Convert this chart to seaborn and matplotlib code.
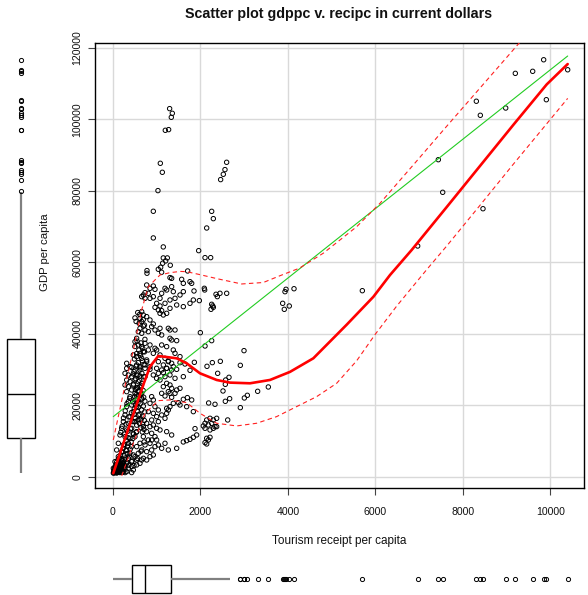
import matplotlib
matplotlib.use("Agg")
import matplotlib.pyplot as plt
import numpy as np
import pandas as pd
import seaborn as sns

sns.set_theme(style="white")
plt.rcParams["font.family"] = ["Liberation Sans", "DejaVu Sans"]

# ---- observations: (tourism receipt per capita, GDP per capita) ----
far_right = [(9845, 116700), (9594, 113470), (9197, 112900), (10394, 113900),
             (8306, 105100), (8397, 101170), (8977, 103200), (9906, 105530),
             (7437, 88750), (7537, 79630), (8458, 75040), (6965, 64610),
             (5700, 52110)]
around_4000 = [(3932, 51830), (3955, 52500), (4138, 52660), (3879, 48580),
               (3916, 46900), (4030, 47830)]
upper_spike = [(1295, 103031), (1356, 101726), (1333, 100608), (1196, 96973),
               (1272, 97159), (1082, 87746), (1128, 85230), (1028, 80104),
               (922, 74325), (922, 66869), (1150, 64353), (1150, 61277),
               (1242, 61277), (1204, 60438), (1310, 59227), (1036, 58108),
               (1090, 58667), (1135, 59786), (777, 57736), (777, 56990),
               (1112, 57270), (1303, 55778)]
right_column = [(2598, 88026), (2560, 85976), (2522, 84671), (2461, 83180),
                (2256, 74308), (2294, 72258), (2142, 69648), (1959, 63311),
                (2104, 61354), (2233, 61354), (1707, 57625)]
mid_right = [(1852, 52033), (1974, 49331), (2088, 52778), (2096, 52313),
             (2355, 51101), (2385, 50449), (2446, 51381), (2599, 51381),
             (2256, 48306), (2294, 47467), (2241, 46908), (2279, 47840)]
upper_cluster = [
    (1341, 55568), (1570, 55288), (1608, 54170), (1760, 54636), (1799, 54170),
    (770, 53704), (922, 53424), (846, 52772), (960, 52492), (1189, 52772),
    (1227, 52306), (1341, 53238), (1379, 51840), (732, 51560), (694, 50908),
    (808, 51374), (656, 50442), (732, 49976), (846, 49976), (922, 50442),
    (1113, 51374), (1075, 49976), (1303, 49510), (1418, 49976), (1532, 50908),
    (1608, 51840), (1189, 48578), (998, 48578), (960, 47460), (1075, 47832),
    (1037, 46714), (1113, 46528), (1075, 45782), (1151, 45316), (1227, 45782),
    (1303, 47180), (1456, 48112), (1608, 47646), (1760, 48578), (1837, 49510),
    (656, 46248), (694, 45316), (617, 44384), (656, 43452), (770, 44850),
    (846, 43918), (922, 42800), (884, 42054), (694, 42240), (617, 41588),
    (579, 40656), (656, 40190), (732, 41122), (808, 40656), (960, 41122),
    (1075, 41588), (1037, 40190), (1113, 39724), (1265, 41588), (1303, 41122),
    (1418, 41122), (1303, 38792), (1341, 38326), (1456, 38140), (541, 38792),
    (503, 37860), (579, 36928), (656, 36462), (732, 37394), (846, 36928),
    (960, 35996), (808, 35530), (694, 35064), (617, 34598), (541, 33666),
    (465, 34132), (656, 33200), (770, 32734), (922, 34598), (998, 35530),
    (1113, 36928), (1227, 36462), (1379, 35530), (1418, 34598), (1532, 33666),
    (1075, 34132), (1189, 33200), (1265, 32268), (1341, 31802), (313, 31802),
    (389, 30870), (541, 31336), (617, 30870), (732, 31336), (846, 30870),
    (1151, 31336), (1227, 30404), (1379, 30870)]
lower_right = [
    (1997, 40372), (2104, 36643), (2256, 38134), (2995, 35339), (2911, 31238),
    (1860, 32077), (2149, 30958), (2271, 31988), (2454, 32356), (1761, 29840),
    (2393, 29001), (2652, 27883), (2576, 27137), (2568, 25925), (2515, 24062),
    (2667, 21918), (2568, 21172), (3071, 22850), (3003, 22104), (3307, 23968),
    (3551, 25180), (2911, 19402), (2622, 15953), (2187, 20706), (2332, 20334),
    (1700, 22198), (1799, 21545), (1608, 21731), (2142, 15953), (2218, 16419),
    (2294, 15953), (2370, 16419), (2104, 15021), (2180, 14555), (2256, 15021),
    (2332, 14089), (2104, 13623), (2218, 13157), (2294, 13623), (2370, 14089),
    (2065, 14275), (1875, 13530), (1913, 11759), (1837, 11107), (1761, 10548),
    (1684, 10174), (1608, 9802), (2142, 10827), (2218, 11107), (2104, 9615),
    (2142, 9243), (2180, 10361), (1532, 31979), (1646, 31607), (1608, 28065),
    (1532, 24803), (1837, 18279), (1684, 19677), (1532, 20143)]
core = [
    (770, 32259), (1037, 32259), (1265, 32445),
    (313, 30395), (427, 30675), (503, 29929), (617, 29929), (732, 30395),
    (846, 30115), (998, 30395), (1113, 29929), (1227, 30395), (1341, 29929),
    (1456, 30115), (1037, 28997), (1151, 29183),
    (275, 28997), (351, 28531), (427, 28065), (465, 28811), (541, 28531),
    (617, 28251), (732, 28065), (313, 27133), (389, 26667), (503, 27133),
    (579, 26667), (656, 26201), (275, 25735), (351, 25269), (465, 25735),
    (541, 24803), (617, 25269), (427, 24337), (313, 23871), (503, 23405),
    (579, 23871), (656, 23405),
    (922, 28531), (998, 27599), (1075, 27133), (1189, 28065), (1303, 28531),
    (1418, 27599), (1227, 26201), (1303, 25735), (1151, 25269), (1341, 24803),
    (1456, 24337), (1418, 23405), (1265, 23871), (1303, 23405), (1113, 23405),
    (1189, 22659), (1341, 22287), (1494, 20795), (1379, 20609), (1303, 19677),
    (1227, 19211), (1265, 18745),
    (884, 22473), (922, 21541), (846, 20609), (960, 19677), (1037, 18745),
    (808, 18279), (922, 17813), (998, 16881), (1113, 17347), (1189, 16415),
    (1227, 17813), (1037, 15483), (884, 15949), (770, 15017), (846, 14085),
    (922, 14551), (998, 13619), (1075, 13153), (694, 14085), (770, 12687),
    (884, 12221), (960, 11289), (694, 11289), (808, 10357), (617, 9425),
    (732, 8959), (541, 8493), (846, 9425), (656, 7561), (579, 6629),
    (465, 6163), (770, 7095), (884, 7561), (960, 8493), (1037, 8959),
    (1113, 8027), (1189, 9425),
    (541, 4765), (656, 4765), (427, 4299), (313, 3833), (237, 2901),
    (160, 2435), (84, 1503), (46, 1200), (8, 1100), (122, 1969), (198, 3367),
    (351, 5231), (503, 5697), (389, 6629), (427, 2901), (465, 1969),
    (313, 1503), (541, 3367), (617, 3833), (694, 5231), (770, 4765),
    (846, 5697), (922, 6163), (275, 4765), (198, 4765), (1265, 7561),
    (1456, 8027), (1227, 12687), (1341, 11755), (884, 10357), (998, 10357),
    (160, 1237), (84, 1150), (122, 1300), (46, 2435), (275, 1237)]
left_branch = [
    (389, 22473), (351, 21075), (313, 19677), (427, 20143), (503, 21541),
    (541, 19677), (465, 18279), (275, 17347), (389, 16881), (579, 17347),
    (237, 15483), (351, 15017), (503, 15483), (617, 15949), (198, 13619),
    (313, 13153), (427, 13619), (541, 12687), (160, 11755), (275, 11289),
    (389, 10823), (503, 11289), (122, 9425), (237, 8959), (351, 9425),
    (427, 8493), (84, 7561), (198, 7095), (313, 7561), (122, 5697),
    (46, 4299), (160, 3833), (8, 2435), (84, 3367), (237, 1503),
    (351, 2435), (427, 1237), (198, 1300), (145, 3087), (69, 1969)]
near_origin = [
    (30, 1400), (60, 1900), (90, 1200), (120, 2600), (150, 1500), (180, 2000),
    (210, 1300), (250, 2200), (40, 1800), (70, 2500), (100, 3000), (130, 2100),
    (170, 3500), (200, 2800), (230, 4000), (260, 3200), (20, 1200), (50, 1700),
    (110, 1800), (160, 2900)]
dense_low = [
    (15, 1500), (25, 2100), (35, 1300), (45, 2800), (55, 1600), (65, 3400),
    (75, 2000), (85, 4200), (95, 1400), (105, 2700), (115, 4800), (125, 3600),
    (135, 1900), (145, 5400), (155, 2500), (165, 4300), (175, 6200),
    (185, 3000), (195, 5100), (205, 7000), (215, 2300), (225, 4600),
    (235, 8000), (245, 3700), (255, 6000), (265, 9000), (275, 2600),
    (285, 5300), (295, 7400), (305, 10200), (315, 4100), (325, 6500),
    (335, 8600), (345, 11000), (355, 3300), (375, 5900), (395, 7800),
    (415, 9800), (435, 4500), (455, 10800),
    (180, 12500), (210, 14200), (240, 16500), (260, 12000), (280, 18500),
    (300, 14800), (320, 20500), (340, 12800), (360, 16800), (380, 22000),
    (400, 13500), (420, 18000), (440, 15500), (450, 21000), (460, 12200)]
dense_mid = [
    (480, 3200), (560, 5200), (640, 7200), (710, 9800),
    (478, 15500), (486, 19000), (494, 22500),
    (510, 16500), (518, 20000), (526, 23000), (542, 14500),
    (550, 18500), (558, 21500), (574, 16000), (582, 19500),
    (590, 22800), (606, 15000), (614, 17500), (622, 20500),
    (630, 23200), (638, 13800), (646, 16200), (654, 18800), (662, 21800),
    (670, 12600), (678, 14800), (686, 17000), (694, 19800), (702, 22300),
    (710, 13300), (718, 15800), (726, 18200), (730, 21200),
    (470, 12000), (652, 22100), (488, 17500), (534, 12500), (572, 20800),
    (470, 26000), (480, 29500), (490, 33000), (500, 36500), (510, 24500),
    (520, 27500), (530, 31000), (540, 34500), (550, 38000), (560, 25000),
    (570, 28500), (580, 32000), (590, 35500), (600, 24000), (610, 27000),
    (620, 30500), (630, 34000), (640, 37500), (650, 25500), (660, 29000),
    (670, 32500), (680, 36000), (690, 24200), (700, 28000), (710, 31500),
    (720, 35000), (730, 38500),
    (528, 43500), (612, 45500), (692, 44000), (720, 42500), (502, 44500),
    (566, 46000), (598, 43000)]

# ---- fitted lines ----
ols_x = [7, 10394]
ols_y = [16890, 117750]
smooth_x = [7, 236, 465, 700, 846, 1036, 1455, 1684, 1989, 2370, 2674, 3132,
            3589, 4046, 4580, 5342, 5952, 6333, 6828, 7628, 8390, 9152, 9914,
            10394]
smooth_y = [1050, 9340, 17540, 26020, 30870, 33850, 33200, 31800, 29000,
            27140, 26400, 26210, 27140, 29400, 33200, 42600, 50400, 56500,
            63500, 75500, 87000, 98500, 109800, 115500]
upper_x = [7, 236, 465, 655, 808, 1074, 1303, 1532, 1684, 1989, 2408, 2942,
           3436, 3818, 4260, 4808, 5570, 6104, 6866, 7628, 8390, 9266, 10394]
upper_y = [10370, 23410, 35530, 46710, 53240, 56500, 57150, 57500, 57430,
           56600, 55390, 53990, 54400, 56300, 58400, 62600, 70000, 76560,
           87300, 98100, 108800, 121100, 137000]
lower_x = [200, 465, 731, 1036, 1303, 1684, 1989, 2370, 2827, 3284, 3741,
           4198, 4656, 5113, 5570, 6000, 6485, 7171, 7628, 8390, 9152, 10394]
lower_y = [300, 9430, 17820, 21360, 21550, 20800, 17820, 15030, 14280, 15030,
           16890, 19690, 22480, 26210, 32500, 40000, 47800, 58000, 64600,
           76000, 87500, 105900]

x_ticks = [0, 2000, 4000, 6000, 8000, 10000]
y_ticks = [0, 20000, 40000, 60000, 80000, 100000, 120000]

points = (far_right + around_4000 + upper_spike + right_column + mid_right +
          upper_cluster + lower_right + core + left_branch + near_origin +
          dense_low + dense_mid)
df = pd.DataFrame(points, columns=["recipc", "gdppc"])

XLIM = (-411, 10767)
YLIM = (-3077, 121390)

W, H = 588, 595
fig = plt.figure(figsize=(W / 100, H / 100), dpi=100)


def rect(l, t, r, b):
    return [l / W, 1 - b / H, (r - l) / W, (b - t) / H]


ax = fig.add_axes(rect(95, 43, 584, 488))
ax_yb = fig.add_axes(rect(1, 43, 41, 488))
ax_xb = fig.add_axes(rect(95, 563, 584, 595))

# main scatter
ax.grid(True, color="#d9d9d9", lw=1.0)
ax.set_axisbelow(True)
sns.scatterplot(data=df, x="recipc", y="gdppc", ax=ax, marker="o", s=10,
                facecolors="none", edgecolors="black", linewidths=0.7,
                legend=False, zorder=3)
sns.lineplot(x=ols_x, y=ols_y, ax=ax, color="#22cc22", lw=0.8, zorder=4,
             estimator=None, sort=False)
sns.lineplot(x=smooth_x, y=smooth_y, ax=ax, color="#ff0000", lw=1.9,
             zorder=5, estimator=None, sort=False)
for bx, by in ((upper_x, upper_y), (lower_x, lower_y)):
    sns.lineplot(x=bx, y=by, ax=ax, color="#ff2020", lw=0.8, zorder=5,
                 estimator=None, sort=False, linestyle=(0, (4, 3)))

ax.set_xlim(*XLIM)
ax.set_ylim(*YLIM)
ax.set_xticks(x_ticks)
ax.set_yticks(y_ticks)
ax.set_xticklabels([str(v) for v in x_ticks])
ax.set_yticklabels([str(v) for v in y_ticks], rotation=90, va="center")
ax.tick_params(axis="both", which="major", direction="out", length=5,
               width=0.8, color="#444444", labelsize=7.6, labelcolor="#111111",
               bottom=True, left=True)
ax.tick_params(axis="x", pad=8.5)
ax.tick_params(axis="y", pad=4)
for s in ax.spines.values():
    s.set_color("black")
    s.set_linewidth(1.0)
ax.set_xlabel("")
ax.set_ylabel("")

box_kw = dict(color="white", linecolor="black", linewidth=1.0, showcaps=False,
              whiskerprops=dict(color="#808080", lw=1.6),
              medianprops=dict(color="black", lw=1.0),
              flierprops=dict(marker="o", markerfacecolor="none",
                              markeredgecolor="black", markersize=3,
                              markeredgewidth=0.7))

# marginal boxplots
sns.boxplot(y=df["gdppc"], ax=ax_yb, width=0.71, **box_kw)
ax_yb.set_ylim(*YLIM)
ax_yb.set_xlim(-0.5, 0.5)
ax_yb.axis("off")

sns.boxplot(x=df["recipc"], ax=ax_xb, width=0.9, orient="h", **box_kw)
ax_xb.set_xlim(*XLIM)
ax_xb.set_ylim(0.5, -0.5)
ax_xb.axis("off")

fig.text(339 / W, 1 - 14 / H, "Scatter plot gdppc v. recipc in current dollars",
         ha="center", va="center", fontsize=10.3, fontweight="bold",
         color="#111111")
fig.text(339 / W, 1 - 541 / H, "Tourism receipt per capita", ha="center",
         va="center", fontsize=8.5, color="#111111")
fig.text(45 / W, 1 - 252 / H, "GDP per capita", ha="center", va="center",
         rotation=90, fontsize=8.2, color="#111111")

fig.savefig("out.png", dpi=100, facecolor="white")
